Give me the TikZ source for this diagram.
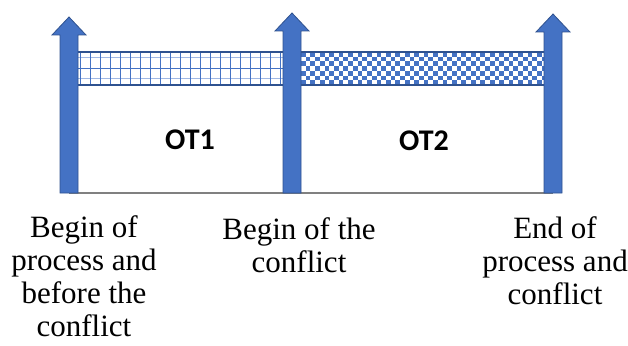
\documentclass[tikz,border=0pt]{standalone}
\usepackage{fontspec}
\setmainfont{Liberation Serif}
\newfontfamily\otfont{Carlito}
\usetikzlibrary{positioning}
\definecolor{arrowblue}{RGB}{68,114,196}
\definecolor{edgeblue}{RGB}{47,82,143}
\definecolor{lightgrid}{RGB}{160,184,228}
\tikzset{
  blockarrow/.style={fill=arrowblue,draw=edgeblue,line width=0.8pt,line join=miter},
  stagelabel/.style={inner sep=0pt,align=center,anchor=north,font=\fontsize{31}{33}\selectfont},
  otlabel/.style={inner sep=0pt,anchor=base,font=\otfont\bfseries\fontsize{30}{32}\selectfont},
  bandedge/.style={draw=edgeblue,line width=1.2pt}
}
\begin{document}
\begin{tikzpicture}[x=1pt,y=-1pt]
  \useasboundingbox (0,0) rectangle (628,345);

  % grid band OT1
  \foreach \y in {57,78}{
    \draw[lightgrid,line width=1pt] (77,\y) -- (283,\y);
  }
  \draw[arrowblue,line width=1pt] (77,68) -- (283,68);
  \foreach \x in {80,90,...,280}{
    \draw[arrowblue,line width=1pt] (\x,52) -- (\x,85);
  }
  \draw[bandedge] (77,52) -- (283,52) (77,85) -- (283,85);

  % checker band OT2
  \begin{scope}
    \clip (301,52) rectangle (544,85);
    \foreach \j in {0,...,6}{
      \pgfmathsetmacro{\off}{mod(\j,2)}
      \foreach \i in {0,2,...,52}{
        \fill[arrowblue] ({301+(\i+\off)*4.72},{52+\j*4.72}) rectangle +(4.72,4.72);
      }
    }
  \end{scope}
  \draw[bandedge] (301,52) -- (544,52) (301,85) -- (544,85);

  % time axis
  \coordinate (a1) at (68.5,193);
  \coordinate (a3) at (553,193);
  \draw[gray,line width=1.3pt] (a1) -- (a3);

  % block arrows: left edge / tip height
  \foreach \xl/\yt in {60/17,283/13,544/14}{
    \draw[blockarrow] (\xl,193) -- (\xl,\yt+18) -- (\xl-8,\yt+18) -- (\xl+9,\yt)
      -- (\xl+26,\yt+18) -- (\xl+18,\yt+18) -- (\xl+18,193) -- cycle;
  }

  \node[otlabel] (ot1) at (190,149) {OT1};
  \node[otlabel] (ot2) at (424,150) {OT2};

  \node[stagelabel] (lbeg) at (84,215) {Begin of\\process and\\before the\\conflict};
  \node[stagelabel] (lconf) at (299,217) {Begin of the\\conflict};
  \node[stagelabel] (lend) at (555,216) {End of\\process and\\conflict};
\end{tikzpicture}
\end{document}
